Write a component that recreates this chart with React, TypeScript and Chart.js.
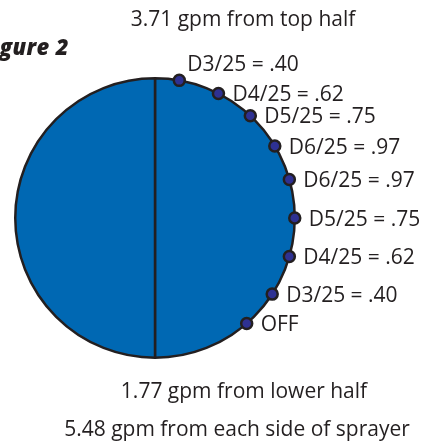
import React, { useEffect, useRef } from "react";
import { Chart, registerables } from "chart.js";

Chart.register(...registerables);

// Data
const halfLabels = ["Right half", "Left half"];
const halfValues = [50, 50];
const nozzleLabels = [
  "D3/25 = .40",
  "D4/25 = .62",
  "D5/25 = .75",
  "D6/25 = .97",
  "D6/25 = .97",
  "D5/25 = .75",
  "D4/25 = .62",
  "D3/25 = .40",
  "OFF",
];
// nozzle angle in degrees, clockwise from the top of the circle
const nozzleAngles = [10, 27, 43, 59, 74, 90, 106, 123, 139];
const figureLabel = "Figure 2";
const topCaption = "3.71 gpm from top half";
const lowerCaption = "1.77 gpm from lower half";
const sideCaption = "5.48 gpm from each side of sprayer";

const FONT = "'Open Sans', 'Noto Sans', sans-serif";
const INK = "#231F20";

const nozzlePlugin = {
  id: "nozzles",
  afterDatasetsDraw(chart: any) {
    const meta = chart.getDatasetMeta(0);
    const arc = meta.data[0];
    if (!arc) return;
    const { x, y, outerRadius } = arc.getProps(["x", "y", "outerRadius"], true);
    const ctx = chart.ctx;
    ctx.save();
    nozzleAngles.forEach((deg, i) => {
      const a = (deg * Math.PI) / 180;
      const px = x + outerRadius * Math.sin(a);
      const py = y - outerRadius * Math.cos(a);
      ctx.beginPath();
      ctx.arc(px, py, 5.5, 0, Math.PI * 2);
      ctx.fillStyle = "#2E3192";
      ctx.fill();
      ctx.lineWidth = 2.5;
      ctx.strokeStyle = INK;
      ctx.stroke();
      ctx.fillStyle = INK;
      ctx.font = `21px ${FONT}`;
      ctx.textAlign = "left";
      ctx.textBaseline = "alphabetic";
      if (i === 0) {
        ctx.fillText(nozzleLabels[i], px + 8, py - 9);
      } else {
        ctx.fillText(nozzleLabels[i], px + 14, py + 7.5);
      }
    });
    ctx.restore();
  },
};

export default function App() {
  const ref = useRef<HTMLCanvasElement | null>(null);
  useEffect(() => {
    if (!ref.current) return;
    const chart = new Chart(ref.current, {
      type: "pie",
      data: {
        labels: halfLabels,
        datasets: [
          {
            data: halfValues,
            backgroundColor: "#0068B3",
            borderColor: INK,
            borderWidth: 2.5,
          },
        ],
      },
      options: {
        responsive: false,
        animation: false,
        layout: { padding: { left: 14, right: 129, top: 77, bottom: 84 } },
        plugins: {
          legend: { display: false },
          tooltip: { enabled: false },
          title: { display: false },
        },
      },
      plugins: [nozzlePlugin],
    });
    return () => chart.destroy();
  }, []);

  const cap: React.CSSProperties = {
    position: "absolute",
    fontFamily: FONT,
    fontSize: 21,
    lineHeight: "21px",
    color: INK,
    whiteSpace: "nowrap",
    transform: "translateX(-50%)",
  };

  return (
    <div
      style={{
        position: "fixed",
        left: 0,
        top: 0,
        width: 425,
        height: 443,
        overflow: "hidden",
        background: "#ffffff",
      }}
    >
      <canvas ref={ref} width={425} height={443} style={{ position: "absolute", left: 0, top: 0 }} />
      <div
        style={{
          position: "absolute",
          right: 356,
          top: 34.6,
          fontFamily: FONT,
          fontSize: 22,
          lineHeight: "22px",
          fontWeight: 800,
          fontStyle: "italic",
          letterSpacing: 0.4,
          color: INK,
          whiteSpace: "nowrap",
        }}
      >
        {figureLabel}
      </div>
      <div style={{ ...cap, left: 243, top: 8.4 }}>{topCaption}</div>
      <div style={{ ...cap, left: 244, top: 380.4 }}>{lowerCaption}</div>
      <div style={{ ...cap, left: 237, top: 418.4 }}>{sideCaption}</div>
    </div>
  );
}
